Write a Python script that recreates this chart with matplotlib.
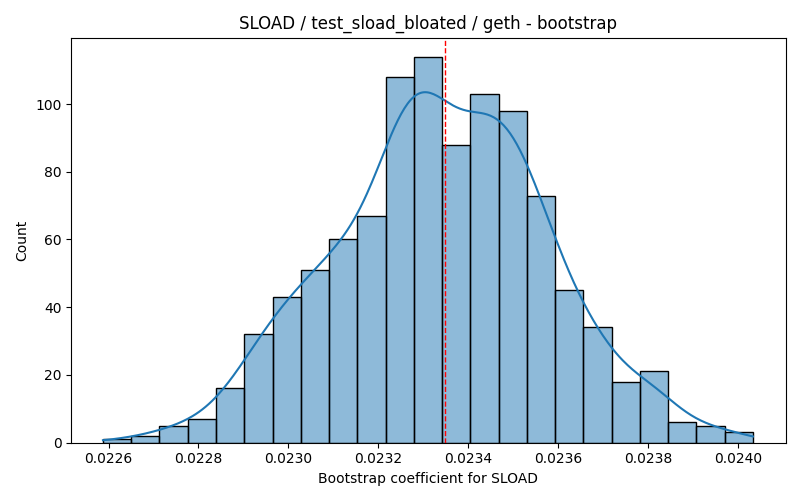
import matplotlib
matplotlib.use("Agg")
import matplotlib.pyplot as plt
import numpy as np
from matplotlib.colors import to_rgba

# histogram (1000 bootstrap samples, 23 bins)
bin_start = 0.0225876
bin_stop = 0.0240327
counts = [1, 2, 5, 7, 16, 32, 43, 51, 60, 67, 108, 114,
          88, 103, 98, 73, 45, 34, 18, 21, 6, 5, 3]
point_estimate = 0.023349

title = "SLOAD / test_sload_bloated / geth - bootstrap"
xlabel = "Bootstrap coefficient for SLOAD"
ylabel = "Count"

counts = np.array(counts, dtype=float)
edges = np.linspace(bin_start, bin_stop, len(counts) + 1)
width = edges[1] - edges[0]
centers = edges[:-1] + width / 2

# gaussian kde (scott bandwidth) from the binned data, scaled to counts
n = counts.sum()
mean = np.sum(centers * counts) / n
std = np.sqrt(np.sum(counts * (centers - mean) ** 2) / (n - 1))
bw = std * n ** (-1 / 5)
grid = np.linspace(bin_start, bin_stop, 400)
dens = np.sum(counts[:, None] * np.exp(-0.5 * ((grid[None, :] - centers[:, None]) / bw) ** 2), axis=0)
dens = dens / (n * bw * np.sqrt(2 * np.pi))
kde_counts = dens * n * width

fig, ax = plt.subplots(figsize=(8, 5), dpi=100)
fig.subplots_adjust(left=0.089, right=0.982, top=0.925, bottom=0.115)

ax.bar(edges[:-1], counts, width=width, align="edge",
       facecolor=to_rgba("#1f77b4", 0.5), edgecolor="black", linewidth=1)
ax.plot(grid, kde_counts, color="#1f77b4", linewidth=1.5)
ax.axvline(point_estimate, color="red", linestyle="--", linewidth=1)

ax.set_xlim(0.022517, 0.0241053)
ax.set_ylim(0, counts.max() * 1.05)
ax.set_xticks(np.arange(0.0226, 0.02401, 0.0002))
ax.set_xticklabels([f"{t:.4f}" for t in np.arange(0.0226, 0.02401, 0.0002)])

ax.set_title(title)
ax.set_xlabel(xlabel)
ax.set_ylabel(ylabel)

plt.savefig("out.png")
